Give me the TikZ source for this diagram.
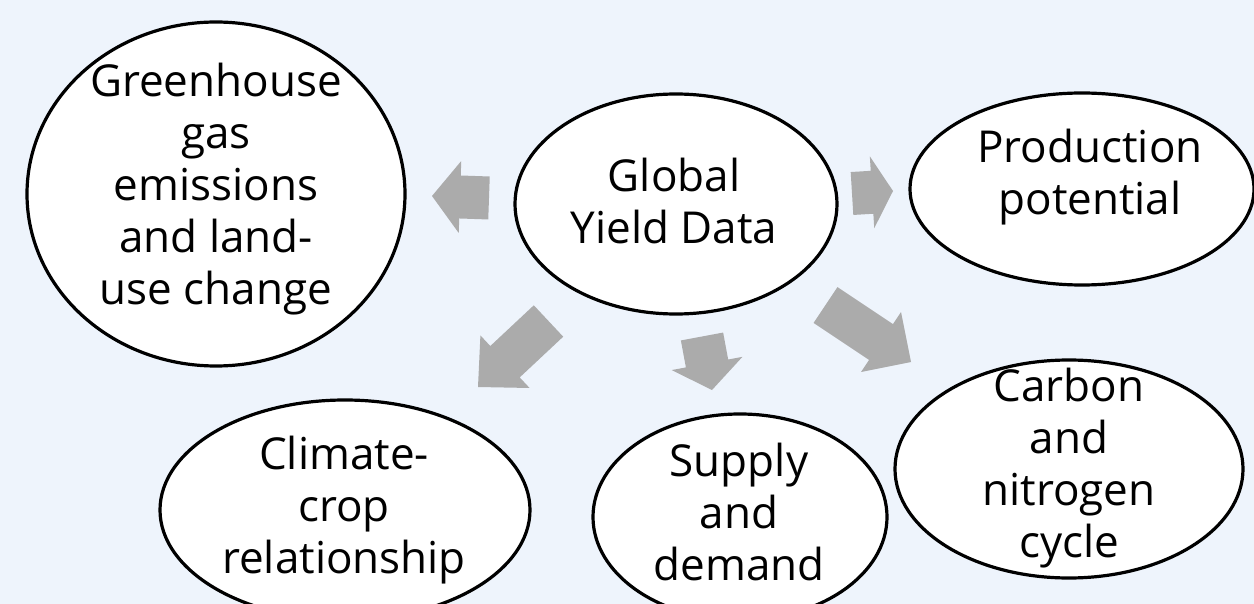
\documentclass[tikz,border=0pt]{standalone}
\usepackage{fontspec}
\usetikzlibrary{shapes.geometric,calc}
\newfontfamily\labelfont{Open Sans}
\definecolor{pagebg}{HTML}{EEF4FC}
\definecolor{arrowgray}{HTML}{ABABAB}
\tikzset{
  topic/.style={ellipse, draw=black, line width=3.2pt, fill=white, inner sep=0pt},
  topictext/.style={align=center, inner sep=0pt, font=\labelfont\fontsize{44}{52}\selectfont},
}
% Block arrow from tail #1 to tip #2, head length #3; #4 names the head base point
\newcommand\grayarrow[4]{%
  \coordinate (#4) at ($(#2)!#3!(#1)$);
  \fill[arrowgray] ($(#1)!21.5pt!90:(#2)$) -- ($(#4)!21.5pt!-90:(#1)$)
    -- ($(#4)!36pt!-90:(#1)$) -- (#2) -- ($(#4)!36pt!90:(#1)$)
    -- ($(#4)!21.5pt!90:(#1)$) -- ($(#1)!21.5pt!-90:(#2)$) -- cycle;
}
\begin{document}
\begin{tikzpicture}[x=1pt,y=-1pt]
  \fill[pagebg] (0,0) rectangle (1254,604);
  \useasboundingbox (0,0) rectangle (1254,604);
  \clip (0,0) rectangle (1254,604);

  % arrows radiating from the central topic
  \coordinate (a1tail) at (489,198);   \coordinate (a1tip) at (432,196);
  \coordinate (a2tail) at (852,193.5); \coordinate (a2tip) at (893,191);
  \coordinate (a3tail) at (548.5,321); \coordinate (a3tip) at (478,387);
  \coordinate (a4tail) at (702,336.5); \coordinate (a4tip) at (712,390);
  \coordinate (a5tail) at (825.5,305); \coordinate (a5tip) at (911,362);
  \grayarrow{a1tail}{a1tip}{28pt}{a1head}
  \grayarrow{a2tail}{a2tip}{21pt}{a2head}
  \grayarrow{a3tail}{a3tip}{37pt}{a3head}
  \grayarrow{a4tail}{a4tip}{27pt}{a4head}
  \grayarrow{a5tail}{a5tip}{36pt}{a5head}

  % topic ellipses
  \node[topic, minimum width=378pt, minimum height=344pt] (ghg) at (216,194) {};
  \node[topic, minimum width=322pt, minimum height=220pt] (yield) at (676,204) {};
  \node[topic, minimum width=344pt, minimum height=192pt] (prod) at (1082,189) {};
  \node[topic, minimum width=370pt, minimum height=220pt] (climate) at (345,510) {};
  \node[topic, minimum width=294pt, minimum height=206pt] (supply) at (740,517) {};
  \node[topic, minimum width=348pt, minimum height=218pt] (carbon) at (1069,469) {};

  % topic labels
  \node[topictext] (ghgtext) at (216,190) {\strut Greenhouse\\gas\\emissions\\and land-\\use change\strut};
  \node[topictext] (yieldtext) at (674,207) {\strut Global\\Yield Data\strut};
  \node[topictext] (prodtext) at (1090,178.5) {\strut Production\\potential\strut};
  \node[topictext] (climatetext) at (344,511) {\strut Climate-\\crop\\relationship\strut};
  \node[topictext] (supplytext) at (739,518) {\strut Supply\\and\\demand\strut};
  \node[topictext] (carbontext) at (1069,469) {\strut Carbon\\and\\nitrogen\\cycle\strut};
\end{tikzpicture}
\end{document}
